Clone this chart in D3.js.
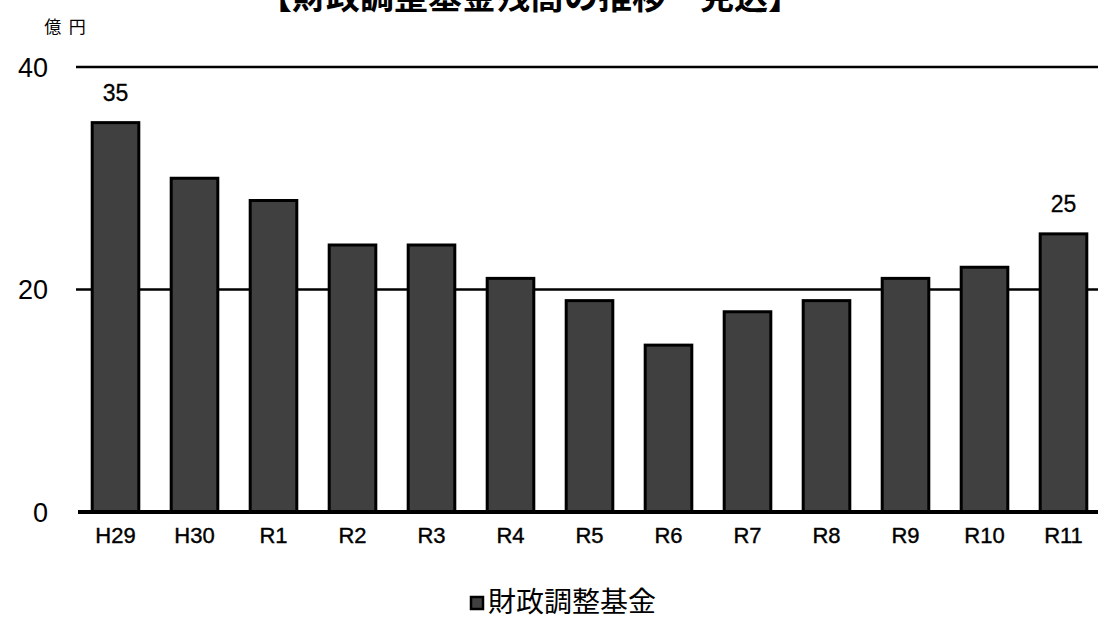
<!DOCTYPE html>
<html><head><meta charset="utf-8">
<script src="https://cdn.jsdelivr.net/npm/d3@7"></script>
<style>body{margin:0;background:#fff}svg{display:block}</style>
</head><body>
<script>
const categories = ["H29","H30","R1","R2","R3","R4","R5","R6","R7","R8","R9","R10","R11"];
const values = [35,30,28,24,24,21,19,15,18,19,21,22,25];
const yTicks = [0,20,40];
const labeled = ["H29","R11"];
const seriesName = "財政調整基金";
const title = "【財政調整基金残高の推移・見込】";
const unit = "億 円";

const W = 1098, H = 617;
const svg = d3.select("body").append("svg").attr("width", W).attr("height", H);
const font = "'Liberation Sans','Noto Sans CJK JP',sans-serif";
const cjk = "'Noto Sans CJK JP',sans-serif";

const x = d3.scaleBand().domain(categories).range([76, 1103]).paddingInner(0.41).paddingOuter(0.205);
const y = d3.scaleLinear().domain([0, 40]).range([512, 67]);

svg.append("text").attr("x", 530).attr("y", 9).attr("text-anchor", "middle")
  .attr("font-family", cjk).attr("font-weight", "bold").attr("font-size", 34).text(title);

svg.append("text").attr("x", 65).attr("y", 33).attr("text-anchor", "middle")
  .attr("font-family", cjk).attr("font-size", 17).text(unit.replace(" ", "\u00a0\u00a0"));

// gridlines
svg.append("g").selectAll("line").data(yTicks.filter(d => d > 0)).join("line")
  .attr("x1", 76).attr("x2", W).attr("y1", d => y(d)).attr("y2", d => y(d))
  .attr("stroke", "#000").attr("stroke-width", 2.5);

// y labels
svg.append("g").selectAll("text").data(yTicks).join("text")
  .attr("x", 48).attr("y", d => y(d)).attr("dy", "0.36em").attr("text-anchor", "end")
  .attr("font-family", font).attr("font-size", 27).text(d => d);

// bars
svg.append("g").selectAll("rect").data(categories).join("rect")
  .attr("x", d => x(d)).attr("width", x.bandwidth())
  .attr("y", (d, i) => y(values[i])).attr("height", (d, i) => y(0) - y(values[i]))
  .attr("fill", "#404040").attr("stroke", "#000").attr("stroke-width", 3);

// baseline
svg.append("line").attr("x1", 78).attr("x2", W).attr("y1", y(0)).attr("y2", y(0))
  .attr("stroke", "#000").attr("stroke-width", 4);

// x labels
svg.append("g").selectAll("text").data(categories).join("text")
  .attr("x", d => x(d) + x.bandwidth() / 2).attr("y", 543).attr("text-anchor", "middle")
  .attr("font-family", font).attr("font-size", 22)
  .attr("stroke", "#000").attr("stroke-width", 0.4).text(d => d);

// value labels
svg.append("g").selectAll("text").data(categories.filter(c => labeled.includes(c))).join("text")
  .attr("x", d => x(d) + x.bandwidth() / 2)
  .attr("y", d => y(values[categories.indexOf(d)]) - 22)
  .attr("text-anchor", "middle").attr("font-family", font).attr("font-size", 23)
  .attr("stroke", "#000").attr("stroke-width", 0.3)
  .text(d => values[categories.indexOf(d)]);

// legend
const lg = svg.append("g").attr("transform", "translate(470,596)");
lg.append("rect").attr("x", 1).attr("y", 1).attr("width", 12).attr("height", 12)
  .attr("fill", "#404040").attr("stroke", "#000").attr("stroke-width", 2.5);
lg.append("text").attr("x", 18).attr("y", 16).attr("font-family", cjk).attr("font-size", 28).text(seriesName);
</script>
</body></html>
